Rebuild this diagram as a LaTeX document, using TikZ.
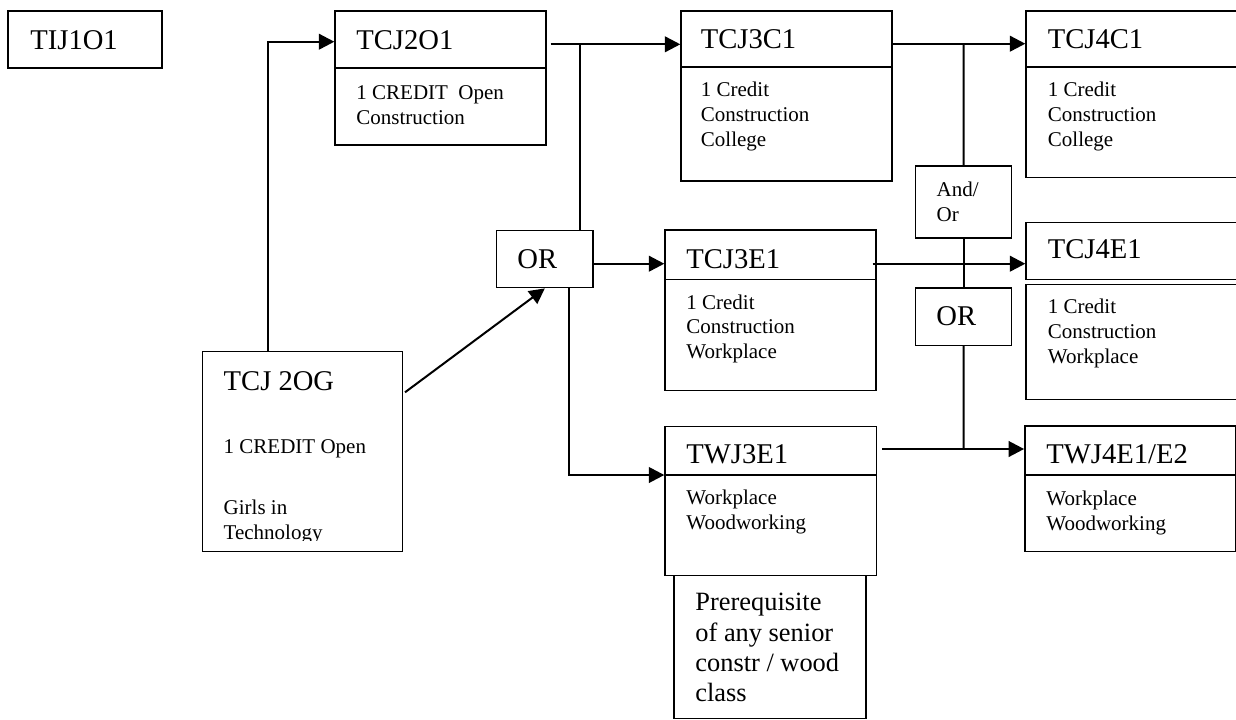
\documentclass[tikz,border=0pt]{standalone}
\usepackage{fontspec}
\setmainfont{Liberation Serif}
\usetikzlibrary{arrows.meta,fit}

\tikzset{
  coursebox/.style={draw, line width=0.7pt, inner sep=0pt},
  bigtext/.style={anchor=base west, inner sep=0pt, font=\fontsize{14.3}{17}\selectfont},
  smalltext/.style={anchor=base west, inner sep=0pt, align=left, font=\fontsize{10.5}{12.3}\selectfont},
  conn/.style={line width=1pt},
  connarrow/.style={conn, -{Triangle[length=7.7pt,width=7.8pt]}}
}

\begin{document}
\begin{tikzpicture}[x=0.5pt, y=-0.5pt]

\useasboundingbox (0,0) rectangle (1236,719);

% multi-line texts sit on the baseline of their last line
\node (tij1o1) [coursebox, fit={(8,11) (162,68)}] {};
\node (tij1o1title) at (30,49.3) [bigtext] {TIJ1O1};

\node (tcj2o1head) [coursebox, fit={(335,11) (546,68)}] {};
\node (tcj2o1body) [coursebox, fit={(335,68) (546,145)}] {};
\node (tcj2o1title) at (356,49) [bigtext] {TCJ2O1};
\node (tcj2o1text) at (356,124) [smalltext] {1 CREDIT\ \ Open\\Construction};

\node (tcj3c1head) [coursebox, fit={(681,11) (892,67)}] {};
\node (tcj3c1body) [coursebox, fit={(681,67) (892,181)}] {};
\node (tcj3c1title) at (700.5,48.3) [bigtext] {TCJ3C1};
\node (tcj3c1text) at (700.5,146) [smalltext] {1 Credit\\Construction\\College};

\node (tcj4c1head) [coursebox, fit={(1026,11) (1250,67)}] {};
\node (tcj4c1body) [coursebox, fit={(1026,67) (1250,177.5)}] {};
\node (tcj4c1title) at (1047.5,48.3) [bigtext] {TCJ4C1};
\node (tcj4c1text) at (1047.5,146) [smalltext] {1 Credit\\Construction\\College};

\node (tcj3e1head) [coursebox, fit={(665,230) (876,279.3)}] {};
\node (tcj3e1body) [coursebox, fit={(665,279.3) (876,390.7)}] {};
\node (tcj3e1title) at (686,268) [bigtext] {TCJ3E1};
\node (tcj3e1text) at (686,358.5) [smalltext] {1 Credit\\Construction\\Workplace};

\node (tcj4e1head) [coursebox, fit={(1026,222.3) (1250,279.6)}] {};
\node (tcj4e1body) [coursebox, fit={(1026,284.6) (1250,399.3)}] {};
\node (tcj4e1title) at (1047.5,258.3) [bigtext] {TCJ4E1};
\node (tcj4e1text) at (1047.5,363) [smalltext] {1 Credit\\Construction\\Workplace};

\node (twj3e1head) [coursebox, fit={(665,426.7) (876.7,475)}] {};
\node (twj3e1body) [coursebox, fit={(665,475) (876.7,575.3)}] {};
\node (twj3e1title) at (686,463.3) [bigtext] {TWJ3E1};
\node (twj3e1text) at (686,529.5) [smalltext] {Workplace\\Woodworking};

\node (twj4e1head) [coursebox, fit={(1024.8,426) (1235.3,475)}] {};
\node (twj4e1body) [coursebox, fit={(1024.8,475) (1235.3,551.3)}] {};
\node (twj4e1title) at (1046,463.3) [bigtext] {TWJ4E1/E2};
\node (twj4e1text) at (1046,530) [smalltext] {Workplace\\Woodworking};

\node (prereq) [coursebox, fit={(674,575.3) (866,718.3)}] {};
\node (prereqtext) at (695,701.7) [anchor=base west, inner sep=0pt, align=left,
  font=\fontsize{13.2}{15.15}\selectfont] {Prerequisite\\of any senior\\constr / wood\\class};

\node (tcj2og) [coursebox, fit={(202.3,351.7) (402.3,551.3)}] {};
\node (tcj2ogtitle) at (223.3,390) [bigtext] {TCJ 2OG};
\node (tcj2ogcredit) at (223.3,453.3) [smalltext] {1 CREDIT Open};
\begin{scope}
  \clip (202.3,351.7) rectangle (402.3,540.5);
  \node (tcj2oggirls) at (223.3,539.3) [smalltext] {Girls in\\Technology};
\end{scope}

\node (orleft) [coursebox, fit={(496.6,230.7) (593,287.7)}] {};
\node (orlefttext) at (517,268) [bigtext] {OR};

\node (andor) [coursebox, fit={(915.5,166) (1011.7,238)}] {};
\node (andortext) at (936.3,221) [smalltext, font=\fontsize{10.5}{12.2}\selectfont] {And/\\Or};

\node (orright) [coursebox, fit={(915.5,288) (1011.7,345.3)}] {};
\node (orrighttext) at (936,325) [bigtext] {OR};

\coordinate (a1) at (267.7,41.7);
\coordinate (b1) at (579.7,44.3);
\coordinate (c1) at (963.6,43.7);
\coordinate (c2) at (963.6,263.7);
\coordinate (c3) at (963.6,449);
\coordinate (d1) at (568.7,475);
\coordinate (e1) at (405,392.3);

\draw [connarrow] (tcj2og.north -| a1) -- (a1) -- (a1 -| tcj2o1head.west);
\draw [connarrow] ([xshift=2pt]b1 -| tcj2o1head.east) -- (b1 -| tcj3c1head.west);
\draw [conn] (b1) -- (b1 |- orleft.north);
\draw [connarrow] (e1) -- (orleft.south);
\draw [connarrow] (c2 -| orleft.east) -- (c2 -| tcj3e1head.west);
\draw [connarrow] (orleft.south -| d1) -- (d1) -- (d1 -| twj3e1head.west);

\draw [connarrow] (c1 -| tcj3c1head.east) -- (c1 -| tcj4c1head.west);
\draw [conn] (c1) -- (andor.north);
\draw [conn] (andor.south) -- (orright.north);
\draw [connarrow] ([xshift=-2pt]c2 -| tcj3e1head.east) -- (c2 -| tcj4e1head.west);
\draw [conn] (orright.south) -- (c3);
\draw [connarrow] ([xshift=2.5pt]c3 -| twj3e1head.east) -- (c3 -| twj4e1head.west);

\end{tikzpicture}
\end{document}
